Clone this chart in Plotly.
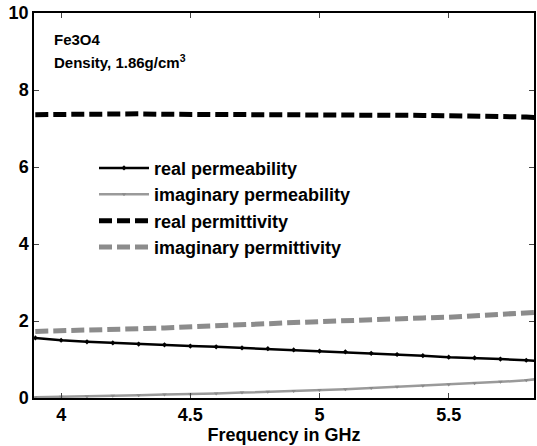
import plotly.graph_objects as go

freq = [3.90, 4.00, 4.10, 4.20, 4.30, 4.40, 4.50, 4.60, 4.70, 4.80, 4.90,
        5.00, 5.10, 5.20, 5.30, 5.40, 5.50, 5.60, 5.70, 5.80, 5.85]
real_permeability = [1.56, 1.50, 1.46, 1.43, 1.40, 1.38, 1.35, 1.33, 1.30, 1.28, 1.25,
                     1.22, 1.20, 1.16, 1.13, 1.10, 1.06, 1.04, 1.01, 0.98, 0.96]
imag_permeability = [0.02, 0.03, 0.04, 0.06, 0.07, 0.09, 0.10, 0.12, 0.14, 0.16, 0.18,
                     0.21, 0.23, 0.26, 0.29, 0.32, 0.35, 0.38, 0.42, 0.46, 0.50]
real_permittivity = [7.36, 7.37, 7.37, 7.38, 7.38, 7.37, 7.37, 7.37, 7.36, 7.36, 7.36,
                     7.35, 7.35, 7.35, 7.34, 7.34, 7.33, 7.33, 7.32, 7.30, 7.28]
imag_permittivity = [1.73, 1.74, 1.76, 1.78, 1.80, 1.82, 1.84, 1.87, 1.90, 1.93, 1.96,
                     1.99, 2.02, 2.04, 2.06, 2.08, 2.10, 2.13, 2.16, 2.20, 2.23]
x_ticks = [4, 4.5, 5, 5.5]
y_ticks = [0, 2, 4, 6, 8, 10]

FONT = "Liberation Sans, Arial, sans-serif"

fig = go.Figure()
fig.add_trace(go.Scatter(x=freq, y=real_permeability, name="real permeability",
                         mode="lines+markers",
                         line=dict(color="black", width=2.5),
                         marker=dict(symbol="diamond", size=4, color="black")))
fig.add_trace(go.Scatter(x=freq, y=imag_permeability, name="imaginary permeability",
                         mode="lines+markers",
                         line=dict(color="#9a9a9a", width=2.5),
                         marker=dict(symbol="triangle-down", size=4, color="#8a8a8a")))
fig.add_trace(go.Scatter(x=freq, y=real_permittivity, name="real permittivity",
                         mode="lines",
                         line=dict(color="black", width=5, dash="13px,5px")))
fig.add_trace(go.Scatter(x=freq, y=imag_permittivity, name="imaginary permittivity",
                         mode="lines",
                         line=dict(color="#8c8c8c", width=5, dash="13px,5px")))

fig.add_annotation(x=0.036, y=0.932, xref="paper", yref="paper", xanchor="left", yanchor="middle",
                   text="<b>Fe3O4</b>", showarrow=False,
                   font=dict(family=FONT, size=15, color="black"))
fig.add_annotation(x=0.036, y=0.875, xref="paper", yref="paper", xanchor="left", yanchor="middle",
                   text="<b>Density, 1.86g/cm<sup>3</sup></b>", showarrow=False,
                   font=dict(family=FONT, size=15, color="black"))

fig.update_layout(
    width=537, height=446,
    margin=dict(l=34, r=1, t=13, b=48),
    paper_bgcolor="white", plot_bgcolor="white",
    font=dict(family=FONT, size=18, color="black"),
    showlegend=True,
    legend=dict(x=0.12, y=0.645, xanchor="left", yanchor="top",
                bgcolor="rgba(0,0,0,0)", font=dict(family=FONT, size=18, weight="bold"),
                itemwidth=50, tracegroupgap=0),
)
fig.update_xaxes(range=[3.895, 5.83], tickvals=x_ticks, ticks="inside", ticklen=5,
                 showline=True, linecolor="black", linewidth=1.5, mirror="ticks",
                 showgrid=False, zeroline=False,
                 tickfont=dict(family=FONT, size=18, weight="bold"),
                 title=dict(text="Frequency in GHz", standoff=2,
                            font=dict(family=FONT, size=18, weight="bold")))
fig.update_yaxes(range=[0, 10], tickvals=y_ticks, ticks="inside", ticklen=5,
                 showline=True, linecolor="black", linewidth=1.5, mirror="ticks",
                 showgrid=False, zeroline=False,
                 tickfont=dict(family=FONT, size=18, weight="bold"))

fig.write_html("out.html")
